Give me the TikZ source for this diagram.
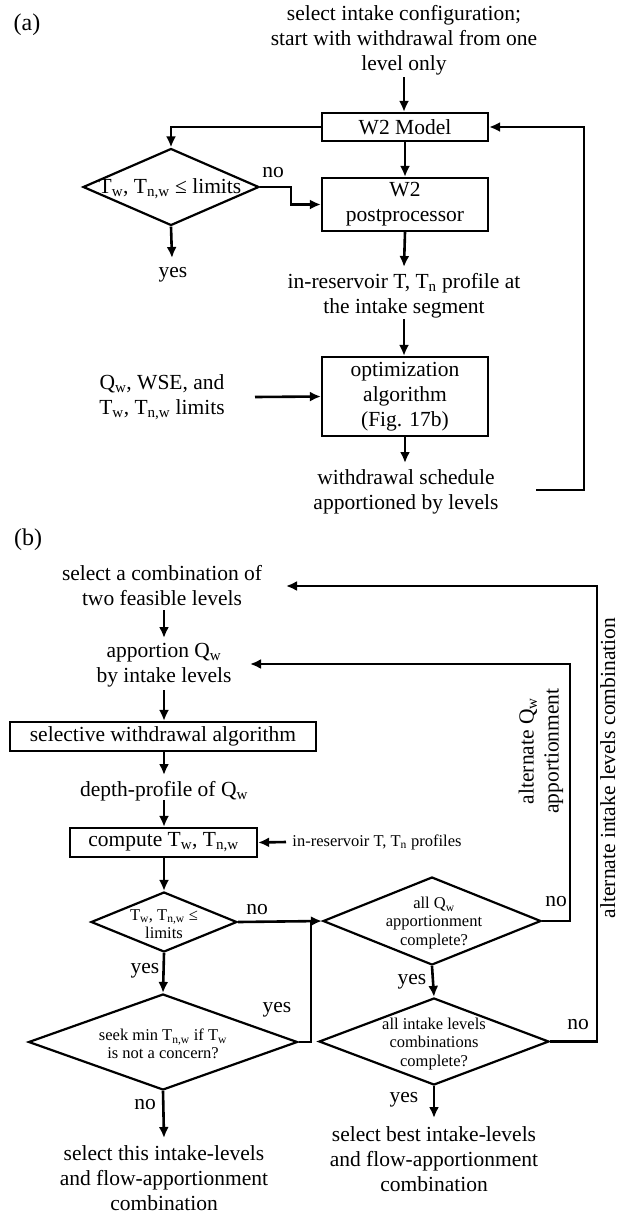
\documentclass[tikz,border=0pt]{standalone}
\usepackage{fontspec}
\setmainfont{Liberation Serif}
\usetikzlibrary{shapes.geometric,arrows.meta,positioning,calc}

\begin{document}
\begin{tikzpicture}[x=1pt,y=-1pt,
    txt/.style={align=center,inner sep=0pt,font=\fontsize{21.5}{25}\selectfont},
    smalltxt/.style={align=center,inner sep=0pt,font=\fontsize{16.5}{18.5}\selectfont},
    box/.style={draw,line width=2.2pt,inner sep=0pt,txt},
    dia/.style={draw,diamond,line width=2.2pt,inner sep=0pt},
    flow/.style={line width=2.6pt,-{Latex[length=11pt,width=10pt]}},
    plain/.style={line width=2.6pt}]
    \useasboundingbox (0,0) rectangle (621,1213);

    % (a) intake configuration loop
    \node[txt,font=\fontsize{24}{28}\selectfont] (lbla) at (27,25) {(a)};
    \node[txt] (sel) at (404,40) {select intake configuration;\\start with withdrawal from one\\level only};
    \node[box, minimum width=166, minimum height=28] (w2) at (405,127) {W2 Model};
    \node[dia, minimum width=176, minimum height=77] (lim) at (171,187) {};
    \node[txt] (limtxt) at (170,189) {T\textsubscript{w}, T\textsubscript{n,w} ≤ limits};
    \node[box, minimum width=166, minimum height=53] (post) at (405,204.5) {W2\\postprocessor};
    \node[txt] (noA) at (273,173) {no};
    \node[txt] (yesA) at (173,275) {yes};
    \node[txt] (prof) at (404,296) {in-reservoir T, T\textsubscript{n} profile at\\the intake segment};
    \node[box, minimum width=166, minimum height=79] (opt) at (405,396.5) {optimization\\algorithm\\(Fig. 17b)};
    \node[txt] (qin) at (162,397) {Q\textsubscript{w}, WSE, and\\T\textsubscript{w}, T\textsubscript{n,w} limits};
    \node[txt] (sched) at (406,492) {withdrawal schedule\\apportioned by levels};
    \coordinate (loopA) at (536,490);

    \draw[flow] (404,77) -- (w2.north -| 404,0);
    \draw[flow] (w2.west) -| (lim.north);
    \draw[flow] (w2) -- (post);
    \draw[flow] (lim.east) -- (291,187) |- (post.west);
    \draw[flow] (lim.south) -- (172,258);
    \draw[flow] (post.south) -- (404,267);
    \draw[flow] (404,319) -- (opt.north -| 404,0);
    \draw[flow] (255,397) -- (opt.west);
    \draw[flow] (opt.south) -- (405,463);
    \draw[flow] (loopA) -- (584,490) |- (w2.east);

    % (b) optimization algorithm
    \node[txt,font=\fontsize{24}{28}\selectfont] (lblb) at (28,540) {(b)};
    \node[txt] (comb) at (162,586) {select a combination of\\two feasible levels};
    \node[txt] (app) at (164,665) {apportion Q\textsubscript{w}\\by intake levels};
    \node[box, minimum width=306, minimum height=29] (swa) at (163,736.5) {selective withdrawal algorithm};
    \node[txt] (dep) at (164,791) {depth-profile of Q\textsubscript{w}};
    \node[box, minimum width=187, minimum height=29] (comp) at (163.5,842.5) {compute T\textsubscript{w}, T\textsubscript{n,w}};
    \node[smalltxt] (resin) at (377,842) {in-reservoir T, T\textsubscript{n} profiles};
    \node[dia, minimum width=146, minimum height=60] (dlim) at (164,922) {};
    \node[smalltxt] (dlimtxt) at (164,924) {T\textsubscript{w}, T\textsubscript{n,w} ≤\\limits};
    \node[dia, minimum width=269, minimum height=96] (seek) at (163,1042) {};
    \node[smalltxt] (seektxt) at (163,1044) {seek min T\textsubscript{n,w} if T\textsubscript{w}\\is not a concern?};
    \node[dia, minimum width=218, minimum height=88] (allq) at (432,921) {};
    \node[smalltxt] (allqtxt) at (434,923) {all Q\textsubscript{w}\\apportionment\\complete?};
    \node[dia, minimum width=230, minimum height=87] (alli) at (434,1041.5) {};
    \node[smalltxt] (allitxt) at (434,1044) {all intake levels\\combinations\\complete?};
    \node[txt] (sthis) at (164,1178) {select this intake-levels\\and flow-apportionment\\combination};
    \node[txt] (sbest) at (434,1159) {select best intake-levels\\and flow-apportionment\\combination};
    \node[txt, rotate=90] (altq) at (541,751) {alternate Q\textsubscript{w}\\apportionment};
    \node[txt, rotate=90, anchor=base] (alti) at (615,768) {alternate intake levels combination};

    \node[txt] (noB1) at (257,910) {no};
    \node[txt] (yesB1) at (145,971) {yes};
    \node[txt] (yesB2) at (277,1010) {yes};
    \node[txt] (noB2) at (145,1105) {no};
    \node[txt] (noB3) at (556,902) {no};
    \node[txt] (yesB3) at (412,982) {yes};
    \node[txt] (noB4) at (578,1025) {no};
    \node[txt] (yesB4) at (404,1100) {yes};

    \coordinate (appin) at (250,664);
    \coordinate (combin) at (286,586);
    \coordinate (join) at (311,922);

    \draw[flow] (164,610) -- (164,638);
    \draw[flow] (164,690) -- (swa.north -| 164,0);
    \draw[flow] (swa.south -| 164,0) -- (164,775);
    \draw[flow] (164,800) -- (comp.north -| 164,0);
    \draw[flow] (286,842) -- (comp.east);
    \draw[flow] (comp.south -| 164,0) -- (dlim.north);
    \draw[flow] (dlim.south) -- (seek.north);
    \draw[flow] (seek.south) -- (164,1138);
    \draw[flow] (dlim.east) -- (allq.west);
    \draw[plain] (seek.east) -| (join);
    \draw[flow] (allq.south) -- (alli.north);
    \draw[flow] (alli.south) -- (434,1118);
    \draw[flow] (allq.east) -- (570,921) |- (appin);
    \draw[flow] (alli.east) -- (597,1041.5) |- (combin);
\end{tikzpicture}
\end{document}
